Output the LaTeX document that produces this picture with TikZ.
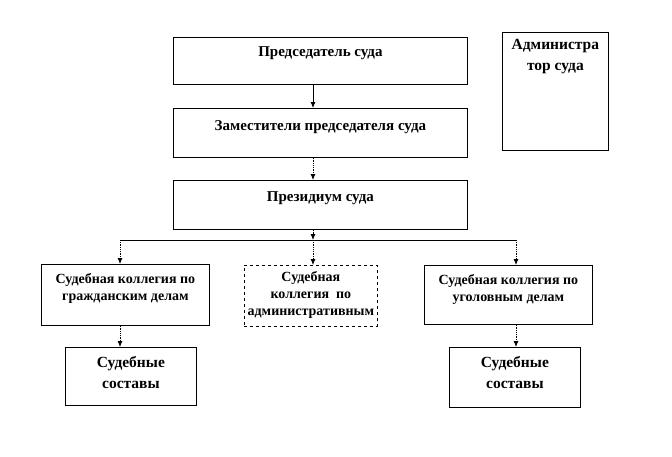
\documentclass[tikz,border=0pt]{standalone}
\usepackage{fontspec}
\setmainfont{Liberation Serif}
\usetikzlibrary{arrows.meta}

\tikzset{
	box/.style={draw,line width=0.8pt,anchor=north west,inner sep=0pt,font=\bfseries\fontsize{15}{17}\selectfont},
	colbox/.style={box,font=\bfseries\fontsize{14}{17}\selectfont},
	bigbox/.style={box,font=\bfseries\fontsize{15.5}{21}\selectfont},
	arr/.style={-{Latex[length=6pt,width=5pt]},line width=0.8pt},
	dotarr/.style={arr,densely dotted},
}
% width, height, top gap, text
\newcommand{\boxtext}[4]{\parbox[c][#2pt][t]{#1pt}{\centering\vspace*{#3pt}#4}}

\begin{document}
\begin{tikzpicture}
		\begin{scope}[x=1pt,y=-1pt]
			\useasboundingbox (0,0) rectangle (672,456);
			%top
			\node[box] (pred) at (173,37) {\boxtext{294}{47}{9}{Председатель суда}};
			\node[box] (zam) at (173,108) {\boxtext{294}{49}{12}{Заместители председателя суда}};
			\node[box] (prez) at (173,180) {\boxtext{294}{49}{11}{Президиум суда}};
			\node[bigbox] (adm) at (502,32) {\boxtext{106}{118}{7}{Администра\\тор суда}};
			%collegia
			\node[colbox] (grazhd) at (41,264) {\boxtext{168}{61}{9}{Судебная коллегия по\\гражданским делам}};
			\node[colbox,dashed] (admkol) at (244,265) {\boxtext{133}{61}{6}{Судебная\\коллегия~~по\\административным}};
			\node[colbox] (ugol) at (424,265) {\boxtext{168}{59}{9}{Судебная коллегия по\\уголовным делам}};
			%sostavy
			\node[bigbox] (sostL) at (65,347) {\boxtext{131}{58}{9}{Судебные\\составы}};
			\node[bigbox] (sostR) at (449,347) {\boxtext{131}{60}{9}{Судебные\\составы}};
			%bus
			\coordinate (bus) at (313,240);
			\coordinate (busL) at (120,240);
			\coordinate (busR) at (516,240);
			%arrows
			\draw[arr] (pred.south -| bus) -- (zam.north -| bus);
			\draw[dotarr] (zam.south -| bus) -- (prez.north -| bus);
			\draw[dotarr] (prez.south -| bus) -- (bus);
			\draw[line width=0.8pt] (busL) -- (busR);
			\draw[dotarr] (busL) -- (grazhd.north -| busL);
			\draw[dotarr] (bus) -- (admkol.north -| bus);
			\draw[dotarr] (busR) -- (ugol.north -| busR);
			\draw[dotarr] (grazhd.south -| busL) -- (sostL.north -| busL);
			\draw[dotarr] (ugol.south -| busR) -- (sostR.north -| busR);
		\end{scope}
	\end{tikzpicture}
\end{document}
